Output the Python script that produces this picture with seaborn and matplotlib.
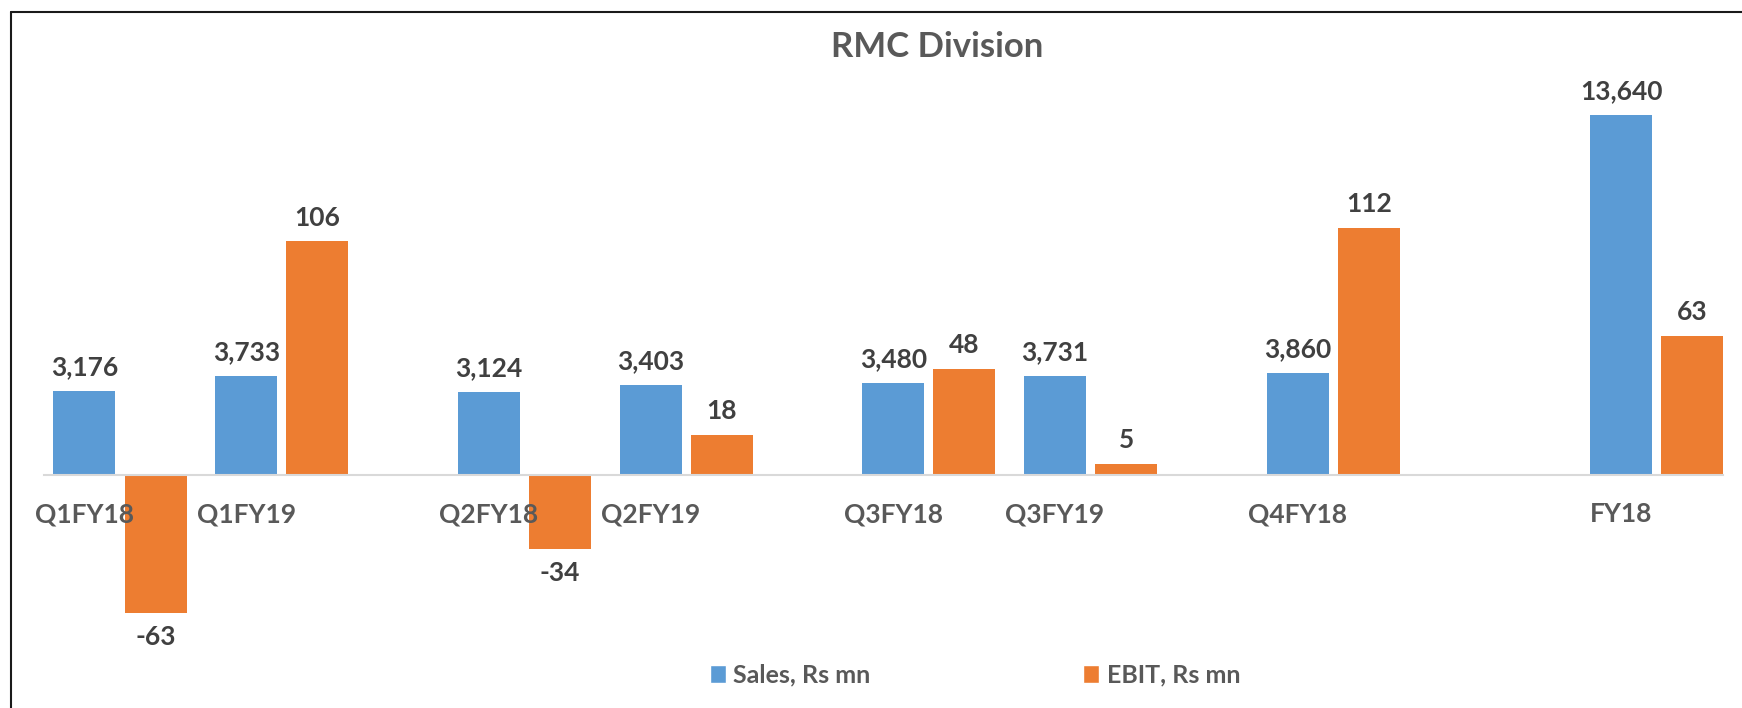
import matplotlib
matplotlib.use('Agg')
import matplotlib.pyplot as plt
import seaborn as sns
import numpy as np
from matplotlib.patches import Patch
from matplotlib.lines import Line2D

# Dados
categorias = ['Q1FY18', 'Q1FY19', 'Q2FY18', 'Q2FY19', 'Q3FY18', 'Q3FY19', 'Q4FY18', 'FY18']
vendas = [3176, 3733, 3124, 3403, 3480, 3731, 3860, 13640]
ebit = [-63, 106, -34, 18, 48, 5, 112, 63]
grupo = [0, 0, 1, 1, 2, 2, 3, 3]
slot = [0, 1, 0, 1, 0, 1, 0, 2]

azul = '#5B9BD5'
laranja = '#ED7D31'

sns.set_style('white')
plt.rcParams['font.family'] = ['Lato', 'DejaVu Sans']
plt.rcParams['font.weight'] = 'bold'

pos = np.array(grupo) * 2.5 + np.array(slot)
largura = 0.384
desloc = 0.44

fig = plt.figure(figsize=(17.42, 7.08), dpi=100)
ax = fig.add_axes([44 / 1742, 1 - 700 / 708, (1723 - 44) / 1742, 670 / 708])
ax2 = ax.twinx()

sns.barplot(x=pos, y=vendas, native_scale=True, width=largura, color=azul,
            saturation=1, linewidth=0, errorbar=None, ax=ax)
sns.barplot(x=pos + desloc, y=ebit, native_scale=True, width=largura, color=laranja,
            saturation=1, linewidth=0, errorbar=None, ax=ax2)

ax.set_ylim(-8545, 16844)
ax2.set_ylim(-102.4, 201.9)
ax.set_xlim(-0.25, 10.13)

# eixo principal por cima (rótulos do eixo x sobre as barras laranja)
ax.set_zorder(ax2.get_zorder() + 1)
ax.patch.set_visible(False)

# rótulos de valor
for x, v in zip(pos, vendas):
    ax.annotate(f'{v:,}', (x, v), xytext=(0, 17 if v >= 0 else -17), textcoords='offset points',
                ha='center', va='center', fontsize=19, fontweight='bold', color='#404040')
for x, v in zip(pos + desloc, ebit):
    ax2.annotate(f'{v:,}', (x, v), xytext=(0, 17 if v >= 0 else -17), textcoords='offset points',
                 ha='center', va='center', fontsize=19, fontweight='bold', color='#404040')

ax2.xaxis.set_visible(False)
ax.set_xticks(pos)
ax.set_xticklabels(categorias)
ax.tick_params(axis='x', length=0, pad=20, labelsize=19, labelcolor='#595959')
ax.set_yticks([])
ax2.set_yticks([])
ax.set_xlabel('')
ax.set_ylabel('')
ax2.set_ylabel('')

for s in ['top', 'right', 'left']:
    ax.spines[s].set_visible(False)
for s in ax2.spines.values():
    s.set_visible(False)
ax.spines['bottom'].set_position(('data', 0))
ax.spines['bottom'].set_color('#d9d9d9')
ax.spines['bottom'].set_linewidth(1.5)

fig.text(937 / 1742, 1 - 47 / 708, 'RMC Division', ha='center', va='center',
         fontsize=25, fontweight='bold', color='#595959')

handles = [Patch(facecolor=azul, label='Sales, Rs mn'), Patch(facecolor=laranja, label='EBIT, Rs mn')]
fig.legend(handles=handles, loc='center', bbox_to_anchor=(975 / 1742, 1 - 675 / 708), ncol=2,
           frameon=False, prop={'size': 18, 'weight': 'bold'}, labelcolor='#595959',
           handlelength=0.65, handleheight=0.7, handletextpad=0.3, columnspacing=8.5)

# moldura
fig.add_artist(Line2D([10.5 / 1742, 10.5 / 1742], [0, 1 - 11.5 / 708], color='#1a1a1a', lw=1.5))
fig.add_artist(Line2D([10.5 / 1742, 1], [1 - 11.5 / 708, 1 - 11.5 / 708], color='#1a1a1a', lw=1.5))

plt.savefig('out.png', dpi=100)
